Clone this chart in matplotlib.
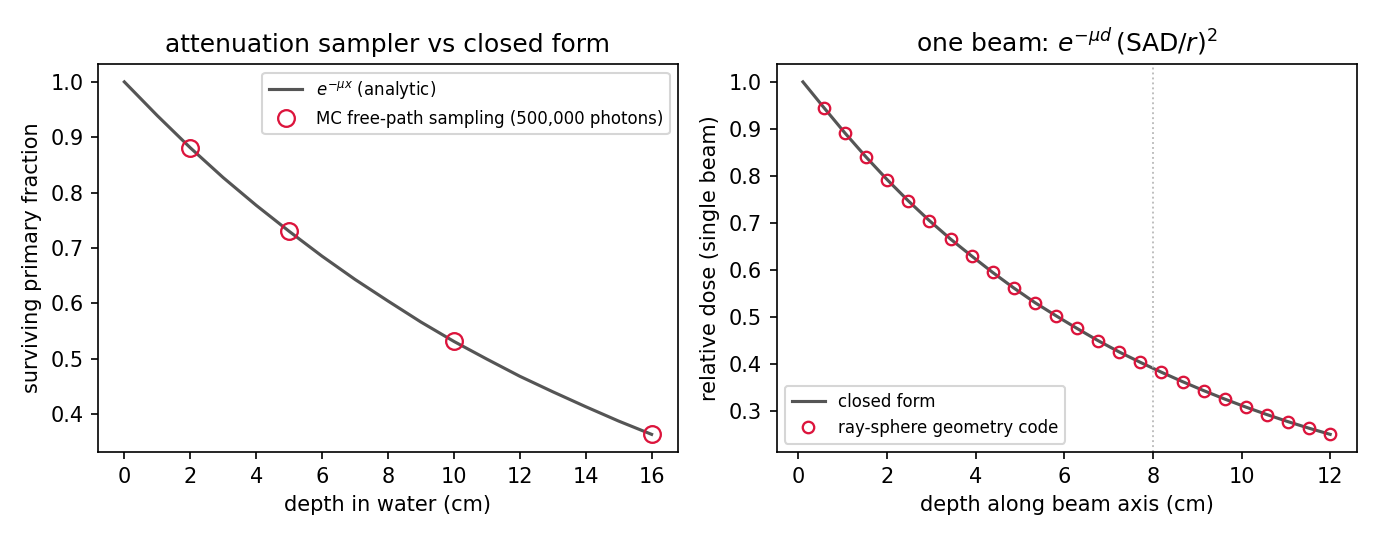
from matplotlib import pyplot as plt

# left panel: analytic attenuation curve and MC samples
depth_curve = [0, 1, 2, 3, 4, 5, 6, 7, 8, 9, 10, 11, 12, 13, 14, 15, 16]
surv_curve = [1.000, 0.939, 0.881, 0.827, 0.777, 0.730, 0.685, 0.643, 0.604,
              0.566, 0.531, 0.499, 0.468, 0.440, 0.413, 0.387, 0.363]
depth_mc = [2, 5, 10, 16]
surv_mc = [0.881, 0.730, 0.531, 0.363]

# right panel: single beam depth dose
depth_beam = [0.1, 0.576, 1.052, 1.528, 2.004, 2.48, 2.956, 3.432, 3.908,
              4.384, 4.86, 5.336, 5.812, 6.288, 6.764, 7.24, 7.716, 8.192,
              8.668, 9.144, 9.62, 10.096, 10.572, 11.048, 11.524, 12.0]
dose_closed = [1.000, 0.945, 0.891, 0.840, 0.792, 0.747, 0.705, 0.666, 0.630,
               0.595, 0.562, 0.531, 0.503, 0.476, 0.450, 0.426, 0.404, 0.383,
               0.363, 0.344, 0.326, 0.309, 0.293, 0.278, 0.264, 0.251]
depth_ray = depth_beam[1:]
dose_ray = dose_closed[1:]
iso_depth = 8

LINE = "#555555"
RED = "crimson"

fig, (ax1, ax2) = plt.subplots(1, 2, figsize=(9.2, 3.6), dpi=150)
fig.subplots_adjust(left=0.071, right=0.983, bottom=0.163, top=0.881, wspace=0.17)

ax1.plot(depth_curve, surv_curve, color=LINE, lw=1.5, label=r"$e^{-\mu x}$ (analytic)")
ax1.plot(depth_mc, surv_mc, "o", mfc="none", mec=RED, ms=8, mew=1.1,
         label="MC free-path sampling (500,000 photons)")
ax1.set_title("attenuation sampler vs closed form")
ax1.set_xlabel("depth in water (cm)")
ax1.set_ylabel("surviving primary fraction")
ax1.set_xticks(range(0, 17, 2))
ax1.legend(fontsize=8, loc="upper right")

ax2.plot(depth_beam, dose_closed, color=LINE, lw=1.5, label="closed form")
ax2.plot(depth_ray, dose_ray, "o", mfc="none", mec=RED, ms=5.5, mew=1.1,
         label="ray-sphere geometry code")
ax2.axvline(iso_depth, color="#bbbbbb", ls=":", lw=0.9)
ax2.set_title(r"one beam: $e^{-\mu d}\,(\mathrm{SAD}/r)^2$")
ax2.set_xlabel("depth along beam axis (cm)")
ax2.set_ylabel("relative dose (single beam)")
ax2.legend(fontsize=8, loc="lower left")

plt.savefig("out.png")
